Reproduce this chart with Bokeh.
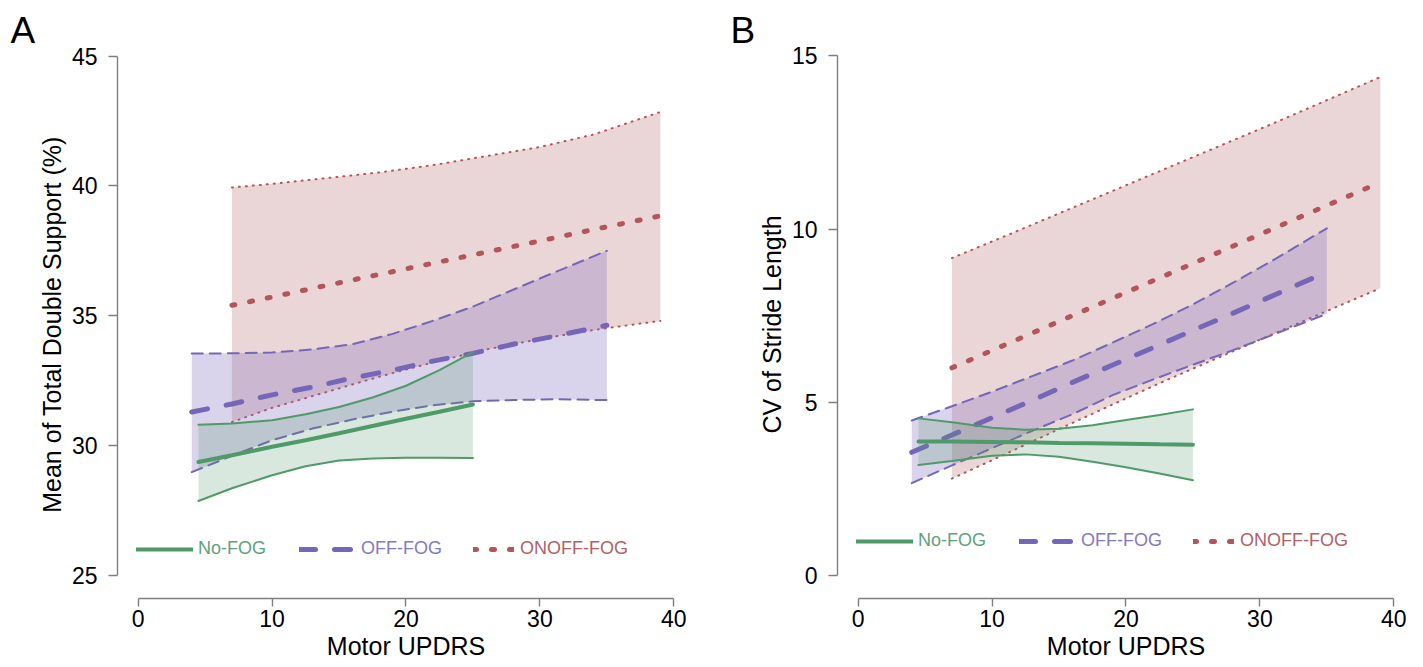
from bokeh.plotting import figure
from bokeh.layouts import row
from bokeh.models import Legend, LegendItem, FixedTicker
from bokeh.embed import file_html
from bokeh.resources import INLINE

# ---------------- data: panel A (Mean of Total Double Support) ----------------
a_nofog_x = [4.5, 7, 10, 12.5, 15, 17.5, 20, 22.5, 25]
a_nofog_mean = [29.36, 29.62, 29.95, 30.2, 30.47, 30.75, 31.03, 31.3, 31.58]
a_nofog_upper = [30.8, 30.85, 30.97, 31.2, 31.48, 31.85, 32.3, 32.9, 33.6]
a_nofog_lower = [27.86, 28.35, 28.85, 29.2, 29.42, 29.5, 29.53, 29.53, 29.52]

a_off_x = [4, 7, 10, 13, 16, 19, 22, 25, 28, 31, 35]
a_off_mean = [31.29, 31.6, 31.95, 32.25, 32.6, 32.9, 33.25, 33.55, 33.9, 34.2, 34.63]
a_off_upper = [33.54, 33.55, 33.58, 33.7, 33.9, 34.3, 34.8, 35.35, 36.0, 36.65, 37.5]
a_off_lower = [28.97, 29.6, 30.2, 30.65, 31.0, 31.3, 31.55, 31.7, 31.75, 31.78, 31.75]

a_onoff_x = [7, 10, 14, 18, 22, 26, 30, 34, 39]
a_onoff_mean = [35.4, 35.72, 36.16, 36.59, 37.02, 37.45, 37.88, 38.32, 38.85]
a_onoff_upper = [39.94, 40.08, 40.3, 40.52, 40.8, 41.15, 41.5, 41.98, 42.85]
a_onoff_lower = [30.9, 31.45, 32.05, 32.65, 33.2, 33.7, 34.1, 34.45, 34.8]

# ---------------- data: panel B (CV of Stride Length) ----------------
b_nofog_x = [4.5, 7, 10, 12.5, 15, 17.5, 20, 22.5, 25]
b_nofog_mean = [3.86, 3.86, 3.85, 3.84, 3.82, 3.81, 3.8, 3.78, 3.77]
b_nofog_upper = [4.53, 4.42, 4.26, 4.2, 4.23, 4.33, 4.48, 4.63, 4.79]
b_nofog_lower = [3.18, 3.3, 3.45, 3.49, 3.42, 3.28, 3.12, 2.94, 2.74]

b_off_x = [4, 7, 10, 13, 16, 19, 22, 25, 28, 31, 35]
b_off_mean = [3.55, 4.05, 4.55, 5.05, 5.57, 6.07, 6.57, 7.07, 7.57, 8.08, 8.76]
b_off_upper = [4.47, 4.88, 5.3, 5.75, 6.2, 6.72, 7.25, 7.82, 8.45, 9.1, 10.02]
b_off_lower = [2.66, 3.17, 3.67, 4.17, 4.65, 5.2, 5.65, 6.08, 6.5, 6.95, 7.55]

b_onoff_x = [7, 11, 15, 19, 23, 27, 31, 35, 39]
b_onoff_mean = [5.99, 6.66, 7.33, 8.0, 8.67, 9.34, 10.01, 10.68, 11.35]
b_onoff_upper = [9.16, 9.8, 10.45, 11.1, 11.75, 12.4, 13.05, 13.72, 14.39]
b_onoff_lower = [2.79, 3.5, 4.22, 4.93, 5.63, 6.3, 6.97, 7.63, 8.29]

x_ticks = [0, 10, 20, 30, 40]
a_y_ticks = [25, 30, 35, 40, 45]
b_y_ticks = [0, 5, 10, 15]
group_names = ["No-FOG", "OFF-FOG", "ONOFF-FOG"]

# ---------------- styles ----------------
FONT = "Liberation Sans"
GREEN = "#4f9a69"
PURPLE = "#7666b8"
RED = "#b4545d"
GREEN_T = "#5fa27b"
PURPLE_T = "#8579bf"
RED_T = "#b25f68"
AXIS_GRAY = "#7f7f7f"


def make_panel(letter, ylabel, yr, yticks, ybounds, groups, legend_y, right_border):
    p = figure(frame_width=577, frame_height=548,
               min_border_left=117, min_border_right=right_border,
               min_border_top=50, min_border_bottom=69,
               x_range=(-1.546, 41.547), y_range=yr,
               output_backend="svg", toolbar_location=None)
    p.outline_line_color = None
    p.xgrid.visible = False
    p.ygrid.visible = False
    p.background_fill_color = "white"
    p.border_fill_color = "white"

    # panel letter as the figure title
    p.title.text = letter
    p.title.align = "left"
    p.title.offset = -107
    p.title.standoff = 0
    p.title.vertical_align = "bottom"
    p.title.text_font = FONT
    p.title.text_font_size = "37px"
    p.title.text_font_style = "normal"
    p.title.text_color = "black"

    specs = [
        groups[2] + (RED, "#b05a5f", 0.25, "3 15", "1 6", 5),
        groups[1] + (PURPLE, "#8270be", 0.30, "16 19", "11 7", 5),
        groups[0] + (GREEN, "#509669", 0.22, "solid", "solid", 4),
    ]
    mean_renderers = {}
    for (x, mean, up, lo, lc, fc, fa, mdash, cdash, mw), name in zip(specs, ["ONOFF-FOG", "OFF-FOG", "No-FOG"]):
        p.varea(x=x, y1=lo, y2=up, fill_color=fc, fill_alpha=fa)
        p.line(x=x, y=up, line_color=lc, line_width=2, line_dash=cdash, line_cap="round")
        p.line(x=x, y=lo, line_color=lc, line_width=2, line_dash=cdash, line_cap="round")
        r = p.line(x=x, y=mean, line_color=lc, line_width=mw, line_dash=mdash, line_cap="round")
        mean_renderers[name] = r

    for ax in (p.xaxis[0], p.yaxis[0]):
        ax.axis_line_color = AXIS_GRAY
        ax.axis_line_width = 1.4
        ax.major_tick_line_color = AXIS_GRAY
        ax.major_tick_line_width = 1.4
        ax.major_tick_in = 0
        ax.minor_tick_line_color = None
        ax.major_label_text_font = FONT
        ax.major_label_text_font_size = "23px"
        ax.major_label_text_color = "black"
        ax.axis_label_text_font = FONT
        ax.axis_label_text_font_size = "25px"
        ax.axis_label_text_font_style = "normal"
        ax.axis_label_text_color = "black"
    p.xaxis.bounds = (0, 40)
    p.xaxis.ticker = FixedTicker(ticks=x_ticks)
    p.xaxis.major_tick_out = 8
    p.xaxis.major_label_standoff = 3
    p.xaxis.axis_label = "Motor UPDRS"
    p.xaxis.axis_label_standoff = 2
    p.yaxis.bounds = ybounds
    p.yaxis.ticker = FixedTicker(ticks=yticks)
    p.yaxis.major_tick_out = 9
    p.yaxis.major_label_standoff = 11
    p.yaxis.axis_label = ylabel
    p.yaxis.axis_label_standoff = 3

    leg_specs = [
        ("No-FOG", GREEN_T, 19, 57, 5),
        ("OFF-FOG", PURPLE_T, 182, 57, 5),
        ("ONOFF-FOG", RED_T, 356, 41, 6),
    ]
    for name, tc, lx, gw, st in leg_specs:
        leg = Legend(items=[LegendItem(label=name, renderers=[mean_renderers[name]])],
                     location=(lx, legend_y), orientation="horizontal",
                     glyph_width=gw, glyph_height=20, label_height=20,
                     label_standoff=st, padding=0, margin=0, spacing=0,
                     border_line_alpha=0, background_fill_alpha=0,
                     label_text_color=tc, label_text_font=FONT,
                     label_text_font_size="18px")
        p.add_layout(leg)

    return p


pA = make_panel("A", "Mean of Total Double Support (%)", (24.103, 45.219), a_y_ticks, (25, 45),
                [(a_nofog_x, a_nofog_mean, a_nofog_upper, a_nofog_lower),
                 (a_off_x, a_off_mean, a_off_upper, a_off_lower),
                 (a_onoff_x, a_onoff_mean, a_onoff_upper, a_onoff_lower)],
                legend_y=39, right_border=26)

pB = make_panel("B", "CV of Stride Length", (-0.673, 15.156), b_y_ticks, (0, 15),
                [(b_nofog_x, b_nofog_mean, b_nofog_upper, b_nofog_lower),
                 (b_off_x, b_off_mean, b_off_upper, b_off_lower),
                 (b_onoff_x, b_onoff_mean, b_onoff_upper, b_onoff_lower)],
                legend_y=47, right_border=9)

layout = row(pA, pB, spacing=0)
open("out.html", "w").write(file_html(layout, INLINE))
